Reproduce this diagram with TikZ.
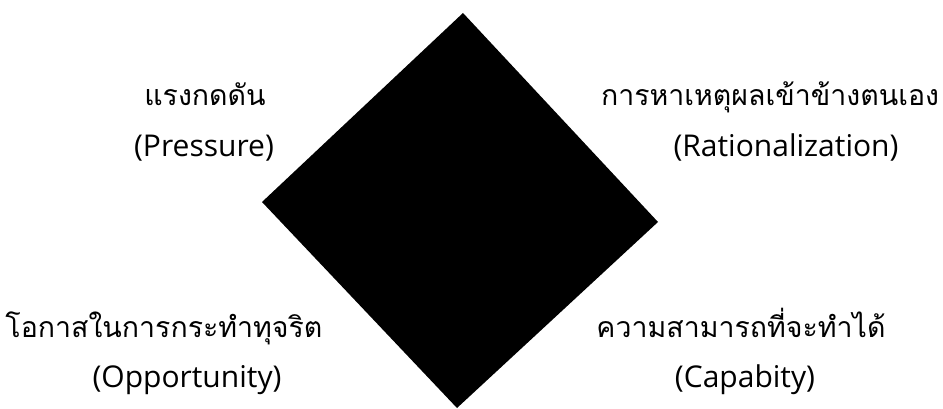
\documentclass[tikz,border=0pt]{standalone}
\usepackage{fontspec}
\setmainfont{Open Sans}
\newfontfamily\thaifont[Script=Thai]{Loma}
\usetikzlibrary{positioning}

\begin{document}
\begin{tikzpicture}[
  x=1pt, y=-1pt,
  every node/.style={inner sep=0pt, anchor=base},
  thlabel/.style={font=\thaifont\fontsize{28.5}{32}\selectfont},
  enlabel/.style={font=\fontsize{30}{33}\selectfont}
]
  \useasboundingbox (0,0) rectangle (943,409);

  % the black diamond
  \coordinate (dTop) at (463,13);
  \coordinate (dRight) at (658,222);
  \coordinate (dBottom) at (457,408);
  \coordinate (dLeft) at (262,202);
  \fill[black] (dTop) -- (dRight) -- (dBottom) -- (dLeft) -- cycle;

  % top left: pressure
  \node[thlabel] (pressTh) at (205,106) {แรงกดดัน};
  \node[enlabel] (pressEn) at (204,157) {(Pressure)};

  % top right: rationalization
  \node[thlabel] (ratTh) at (770,106) {การหาเหตุผลเข้าข้างตนเอง};
  \node[enlabel] (ratEn) at (786,157) {(Rationalization)};

  % bottom left: opportunity
  \node[thlabel] (oppTh) at (164,337) {โอกาสในการกระทำทุจริต};
  \node[enlabel] (oppEn) at (187,387) {(Opportunity)};

  % bottom right: capability
  \node[thlabel] (capTh) at (741,337) {ความสามารถที่จะทำได้};
  \node[enlabel] (capEn) at (745,387) {(Capabity)};
\end{tikzpicture}
\end{document}
